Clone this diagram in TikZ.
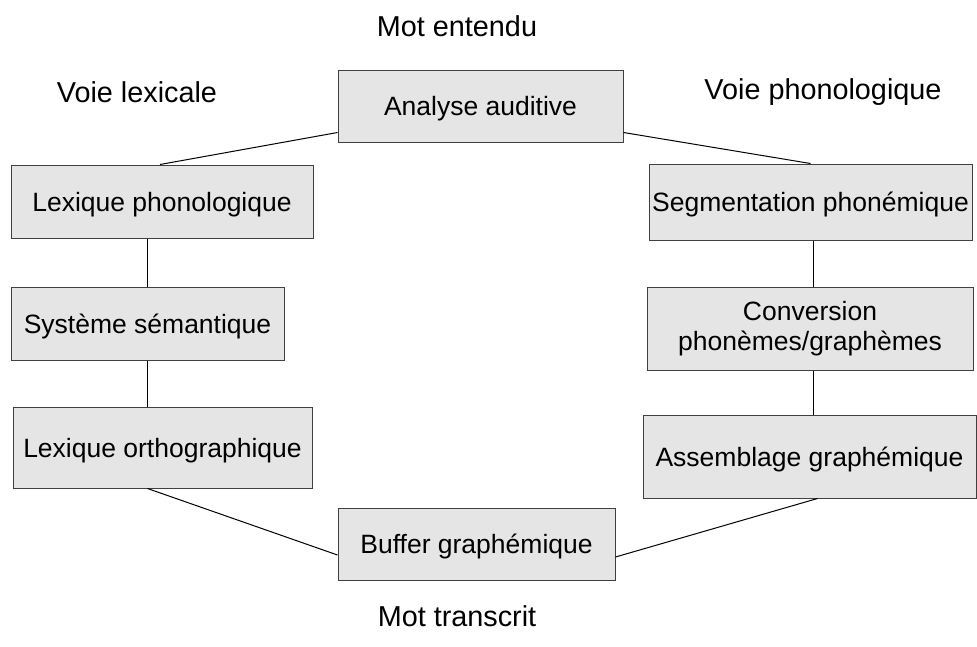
\documentclass[tikz,border=0pt]{standalone}
\usepackage{fontspec}
\setmainfont{Liberation Sans}
\begin{document}
\begin{tikzpicture}[x=1pt,y=-1pt,
  box/.style={draw=black!75, fill=black!10, line width=1pt, inner sep=0pt, align=center,
    font=\fontsize{26.5pt}{30pt}\selectfont},
  onebox/.style={box, text height=19pt, text depth=0pt},
  lbl/.style={inner sep=0pt, font=\fontsize{28.8pt}{34pt}\selectfont},
  link/.style={draw=black, line width=1pt}]
\useasboundingbox (0,0) rectangle (977,646);
% boxes
\node[onebox, minimum width=285pt, minimum height=72pt] (aa) at (480.5,106) {Analyse auditive};
\node[onebox, minimum width=302pt, minimum height=73pt] (lp) at (162,201.5) {Lexique phonologique};
\node[onebox, minimum width=273pt, minimum height=73pt] (ss) at (147.5,323.5) {Système sémantique};
\node[onebox, minimum width=299pt, minimum height=81pt] (lo) at (162.5,447.5) {Lexique orthographique};
\node[onebox, minimum width=277pt, minimum height=72pt] (bg) at (476.5,544) {Buffer graphémique};
\node[onebox, minimum width=323pt, minimum height=76pt] (sp) at (810.5,202) {Segmentation phonémique};
\node[box, minimum width=326pt, minimum height=83pt] (cv) at (810,328.5) {Conversion\\phonèmes/graphèmes};
\node[onebox, minimum width=333pt, minimum height=83pt] (as) at (809.5,456.5) {Assemblage graphémique};
% labels
\node[lbl] (t1) at (457,26) {Mot entendu};
\node[lbl] (t2) at (137,92) {Voie lexicale};
\node[lbl] (t3) at (823,92) {Voie phonologique};
\node[lbl] (t4) at (457,616) {Mot transcrit};
% connectors
\draw[link] ([yshift=10pt]aa.south west) -- ([xshift=-2pt]lp.north);
\draw[link] ([yshift=10pt]aa.south east) -- (sp.north);
\draw[link] (ss.north |- lp.south) -- (ss.north);
\draw[link] (ss.south) -- (ss.south |- lo.north);
\draw[link] ([xshift=-15pt]lo.south) -- ([yshift=-11pt]bg.west);
\draw[link] ([xshift=2.5pt]sp.south) -- ([xshift=3pt]cv.north);
\draw[link] ([xshift=3pt]cv.south) -- ([xshift=3.5pt]as.north);
\draw[link] ([xshift=8pt]as.south) -- ([yshift=-13pt]bg.east);
\end{tikzpicture}
\end{document}
